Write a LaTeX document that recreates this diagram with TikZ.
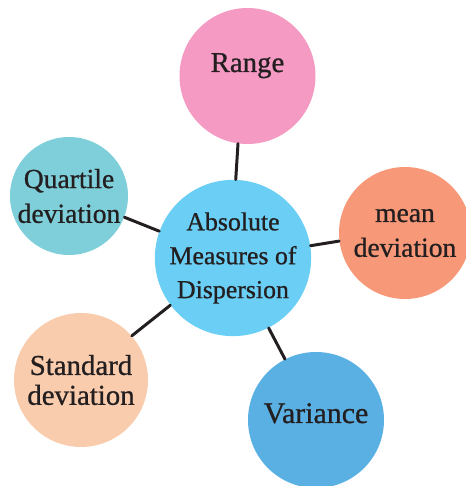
\documentclass[tikz,border=0pt]{standalone}
\usepackage{fontspec}
\setmainfont{Liberation Serif}[FakeBold=0.8]
\usepackage{xcolor}
\definecolor{ink}{HTML}{231F20}
\definecolor{hub}{HTML}{6ACEF5}
\definecolor{rangec}{HTML}{F49AC3}
\definecolor{quartc}{HTML}{7ECFD9}
\definecolor{meanc}{HTML}{F79979}
\definecolor{stdc}{HTML}{F9CCAD}
\definecolor{varc}{HTML}{5AB0E3}

\begin{document}
\begin{tikzpicture}[bubble/.style={circle,inner sep=0pt,align=center,text=ink},
  link/.style={draw=ink,line width=1.7pt,line cap=round}]
\useasboundingbox (0,0) rectangle (9.32,9.72);
\begin{scope}
\clip (0,0) rectangle (9.32,9.72);
% outer circles
\node[bubble,fill=rangec,minimum size=2.72cm,text height=0.4cm,text depth=0.56cm,
  font=\fontsize{16.4}{19}\selectfont] (range) at (4.95,8.20) {Range};
\node[bubble,fill=quartc,minimum size=2.36cm,
  font=\fontsize{15.7}{19.8}\selectfont] (quart) at (1.38,5.80) {Quartile\\deviation};
\node[bubble,fill=meanc,minimum size=2.64cm,
  font=\fontsize{15.7}{19.8}\selectfont] (mean) at (8.10,5.06) {mean\\deviation};
\node[bubble,fill=stdc,minimum size=2.68cm,
  font=\fontsize{16.4}{17}\selectfont] (std) at (1.62,2.12) {Standard\\deviation};
\node[bubble,fill=varc,minimum size=2.72cm,text height=0.4cm,text depth=0.28cm,
  font=\fontsize{17}{20}\selectfont] (var) at (6.32,1.32) {Variance};
% hub
\node[bubble,fill=hub,minimum size=3.12cm,
  font=\fontsize{14.7}{19.3}\selectfont] (hub) at (4.66,4.56) {Absolute\\Measures of\\Dispersion};
\end{scope}
% spokes
\draw[link] (hub.88) -- (range.262);
\draw[link] (hub.160) -- (quart.339);
\draw[link] (hub.9) -- (mean.187);
\draw[link] (hub.217) -- (std.41);
\draw[link] (hub.297) -- (var.117);
\end{tikzpicture}
\end{document}
